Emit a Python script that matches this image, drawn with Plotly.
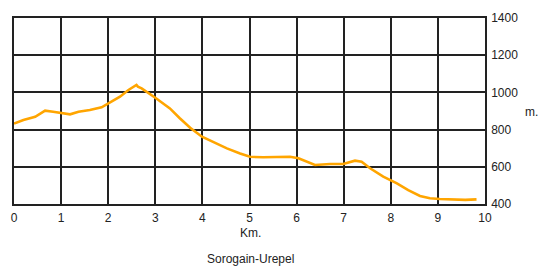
import plotly.graph_objects as go

km = [0.0, 0.2, 0.45, 0.66, 0.83, 1.01, 1.19, 1.37, 1.61, 1.86, 2.04, 2.25, 2.43, 2.6, 2.63, 2.71,
      3.0, 3.31, 3.52, 3.74, 3.99, 4.23, 4.52, 4.8, 5.01, 5.29, 5.58, 5.86, 6.04, 6.21, 6.39,
      6.71, 6.99, 7.24, 7.38, 7.56, 7.84, 8.13, 8.37, 8.62, 8.83, 9.04, 9.33, 9.58, 9.82]
elev = [832, 852, 869, 902, 896, 888, 882, 896, 905, 920, 945, 977, 1013, 1040, 1031, 1022,
        971, 914, 861, 810, 762, 735, 699, 672, 654, 651, 651, 654, 646, 627, 610,
        615, 615, 633, 627, 592, 547, 511, 475, 443, 431, 427, 425, 422, 425]

x_ticks = list(range(0, 11))
y_ticks = [400, 600, 800, 1000, 1200, 1400]

# the page body has an 8px default margin; the figure starts at (8, 8)
OFF = 8
W, H = 546 - OFF, 266 - OFF
L, R, T, B = 14 - OFF, 546 - 485, 18 - OFF, 266 - 204

fig = go.Figure()
fig.add_trace(go.Scatter(x=km, y=elev, mode="lines",
                         line=dict(color="#FFA500", width=2.6), hoverinfo="skip"))

pw = W - L - R
ph = H - T - B


def px(xp, yp):
    # page pixel (from top-left) -> paper coordinates
    return (xp - OFF - L) / pw, (H - (yp - OFF) - B) / ph


ann = []
for text, xp, yp in [("Km.", 250, 233), ("Sorogain-Urepel", 250, 259), ("m.", 531, 112)]:
    ax, ay = px(xp, yp)
    ann.append(dict(text=text, x=ax, y=ay, xref="paper", yref="paper", showarrow=False,
                    xanchor="center", yanchor="middle", font=dict(size=12, color="#222")))

fig.update_layout(
    width=W, height=H,
    margin=dict(l=L, r=R, t=T, b=B, autoexpand=False),
    paper_bgcolor="white", plot_bgcolor="white",
    showlegend=False,
    font=dict(family="Liberation Sans, Arial, sans-serif", size=12, color="#222"),
    xaxis=dict(range=[0, 10], tickvals=x_ticks, showgrid=True, gridcolor="#222",
               gridwidth=1.5, showline=True, linecolor="#222", linewidth=1.5, mirror=True,
               zeroline=False, ticks="", ticklabelstandoff=2, automargin=False),
    yaxis=dict(range=[400, 1400], tickvals=y_ticks, side="right", showgrid=True,
               gridcolor="#222", gridwidth=1.5, showline=True, linecolor="#222",
               linewidth=1.5, mirror=True, zeroline=False, ticks="", ticklabelstandoff=2,
               automargin=False),
    annotations=ann,
)

fig.write_html("out.html")
